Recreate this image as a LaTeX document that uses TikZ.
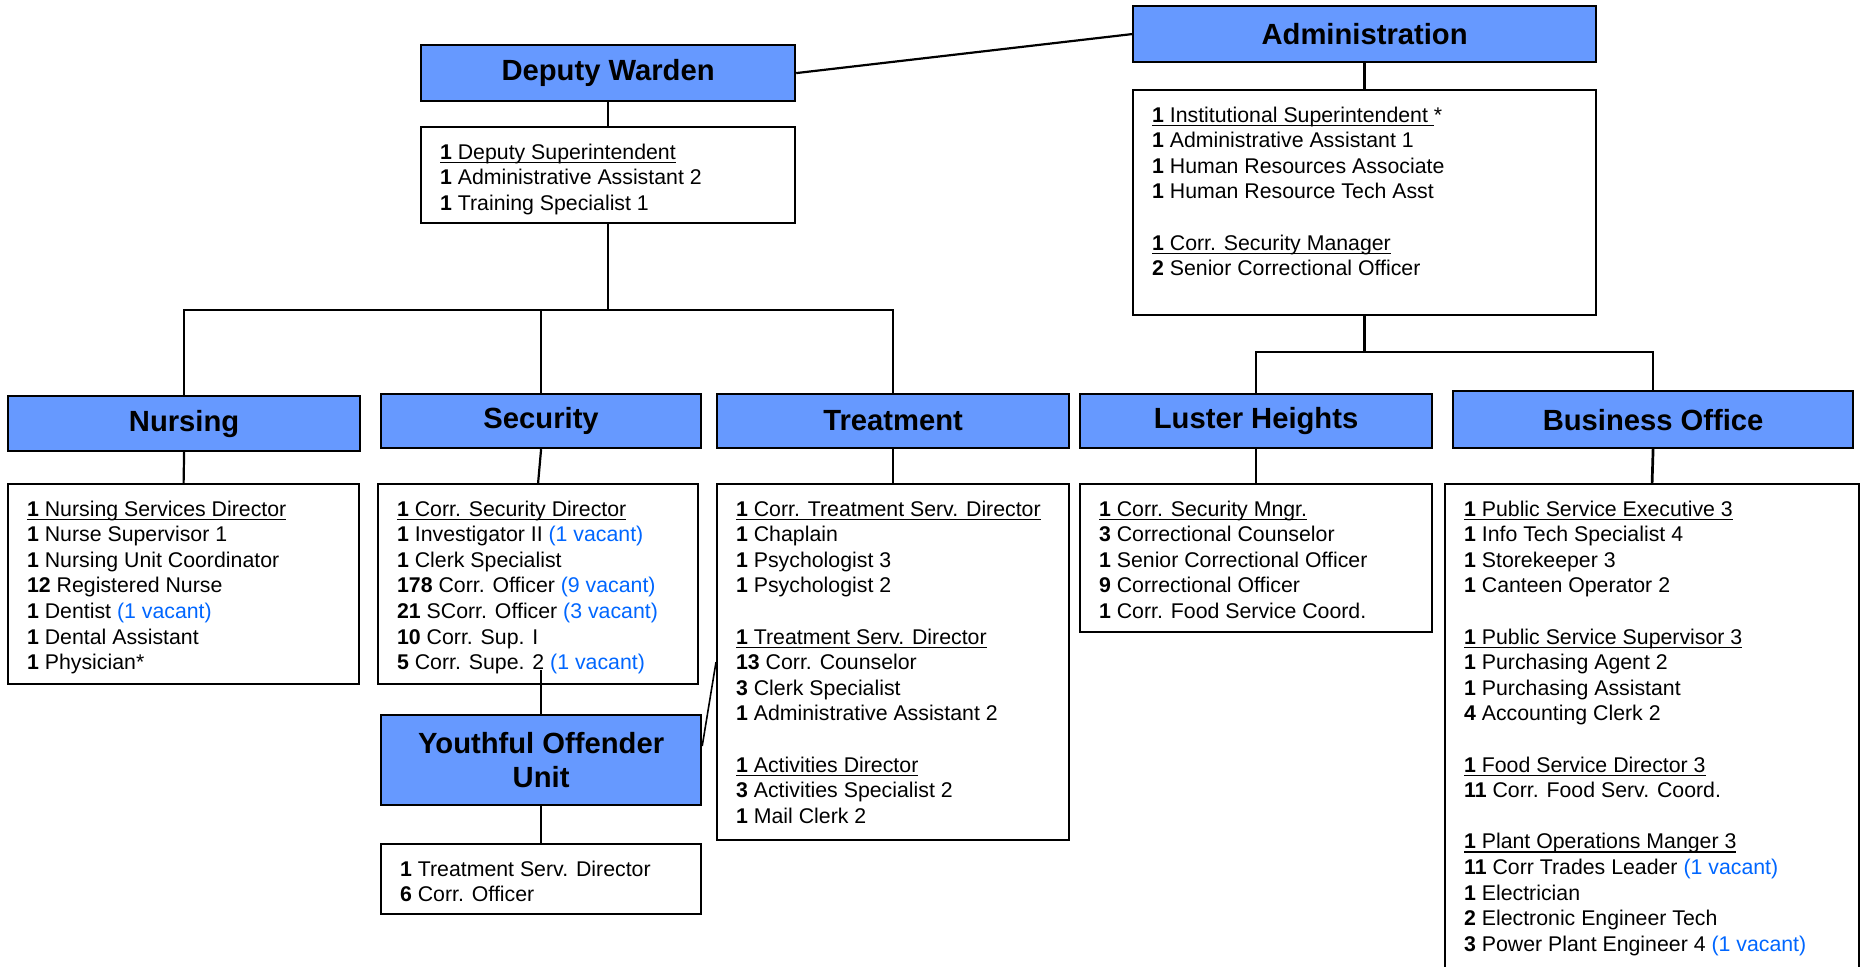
\documentclass[tikz,border=0pt]{standalone}
\usepackage{fontspec}
\setmainfont{Liberation Sans}
\usepackage{tikz}
\usetikzlibrary{calc}
\definecolor{unitblue}{RGB}{102,153,255}
\definecolor{vacant}{RGB}{0,102,255}
\newcommand{\roster}[3]{\parbox[c][#2][t]{#1}{\fontsize{10.65}{12.8}\selectfont\leftskip=9.5pt\rule{0pt}{16pt}#3}}
\newcommand{\uln}[1]{\setbox0\hbox{#1}\rlap{\rule[-1.9pt]{\wd0}{0.6pt}}\box0}
\newcommand{\staff}[2]{\textbf{#1} #2}
\newcommand{\chief}[2]{\uln{\textbf{#1} #2}}
\newcommand{\vac}[1]{\textcolor{vacant}{(#1 vacant)}}

\begin{document}
\begin{tikzpicture}[x=0.5pt, y=-0.5pt, line width=1.1pt,
  unit/.style={draw, fill=unitblue, anchor=north west, inner sep=0pt, align=center, font=\fontsize{14.6}{17.2}\selectfont\bfseries},
  staffbox/.style={draw, anchor=north west, inner sep=0pt},
  link/.style={line width=1.35pt}]
\useasboundingbox (0,0) rectangle (1860,967);
\node[name=admin, unit, minimum width=231.5pt, minimum height=28pt] at (1132,5) {Administration};
\node[name=admindet, staffbox] at (1132,89) {\roster{231.5pt}{112.5pt}{%
  \uln{\textbf{1} Institutional Superintendent\ }*\\
  \staff{1}{Administrative Assistant 1}\\
  \staff{1}{Human Resources Associate}\\
  \staff{1}{Human Resource Tech Asst}\\ \mbox{}\\
  \chief{1}{Corr. Security Manager}\\
  \staff{2}{Senior Correctional Officer}}};
\node[name=dw, unit, minimum width=187pt, minimum height=28pt] at (420,44) {Deputy Warden};
\node[name=dwdet, staffbox] at (420,126) {\roster{187pt}{48pt}{%
  \chief{1}{Deputy Superintendent}\\
  \staff{1}{Administrative Assistant 2}\\
  \staff{1}{Training Specialist 1}}};
\node[name=nursing, unit, minimum width=176pt, minimum height=27.5pt] at (7,395) {Nursing};
\node[name=nursdet, staffbox] at (7,483) {\roster{175.5pt}{100pt}{%
  \chief{1}{Nursing Services Director}\\
  \staff{1}{Nurse Supervisor 1}\\
  \staff{1}{Nursing Unit Coordinator}\\
  \staff{12}{Registered Nurse}\\
  \staff{1}{Dentist \vac{1}}\\
  \staff{1}{Dental Assistant}\\
  \staff{1}{Physician*}}};
\node[name=security, unit, minimum width=160pt, minimum height=27pt] at (380,393) {Security};
\node[name=secdet, staffbox] at (377,483) {\roster{160pt}{100pt}{%
  \chief{1}{Corr. Security Director}\\
  \staff{1}{Investigator II \vac{1}}\\
  \staff{1}{Clerk Specialist}\\
  \staff{178}{Corr. Officer \vac{9}}\\
  \staff{21}{SCorr. Officer \vac{3}}\\
  \staff{10}{Corr. Sup. I}\\
  \staff{5}{Corr. Supe. 2 \vac{1}}}};
\node[name=treatment, unit, minimum width=176pt, minimum height=27pt] at (716,393) {Treatment};
\node[name=treatdet, staffbox] at (716,483) {\roster{176pt}{178pt}{%
  \chief{1}{Corr. Treatment Serv. Director}\\
  \staff{1}{Chaplain}\\
  \staff{1}{Psychologist 3}\\
  \staff{1}{Psychologist 2}\\ \mbox{}\\
  \chief{1}{Treatment Serv. Director}\\
  \staff{13}{Corr. Counselor}\\
  \staff{3}{Clerk Specialist}\\
  \staff{1}{Administrative Assistant 2}\\ \mbox{}\\
  \chief{1}{Activities Director}\\
  \staff{3}{Activities Specialist 2}\\
  \staff{1}{Mail Clerk 2}}};
\node[name=luster, unit, minimum width=176pt, minimum height=27pt] at (1079,393) {Luster Heights};
\node[name=lustdet, staffbox] at (1079,483) {\roster{176pt}{74pt}{%
  \chief{1}{Corr. Security Mngr.}\\
  \staff{3}{Correctional Counselor}\\
  \staff{1}{Senior Correctional Officer}\\
  \staff{9}{Correctional Officer}\\
  \staff{1}{Corr. Food Service Coord.}}};
\node[name=business, unit, minimum width=200pt, minimum height=28.5pt] at (1452,390) {Business Office};
\node[name=busdet, staffbox] at (1444,483) {\roster{207pt}{250pt}{%
  \chief{1}{Public Service Executive 3}\\
  \staff{1}{Info Tech Specialist 4}\\
  \staff{1}{Storekeeper 3}\\
  \staff{1}{Canteen Operator 2}\\ \mbox{}\\
  \chief{1}{Public Service Supervisor 3}\\
  \staff{1}{Purchasing Agent 2}\\
  \staff{1}{Purchasing Assistant}\\
  \staff{4}{Accounting Clerk 2}\\ \mbox{}\\
  \chief{1}{Food Service Director 3}\\
  \staff{11}{Corr. Food Serv. Coord.}\\ \mbox{}\\
  \chief{1}{Plant Operations Manger 3}\\
  \staff{11}{Corr Trades Leader \vac{1}}\\
  \staff{1}{Electrician}\\
  \staff{2}{Electronic Engineer Tech}\\
  \staff{3}{Power Plant Engineer 4 \vac{1}}}};
\node[name=you, unit, minimum width=160pt, minimum height=45pt] at (380,714) {Youthful Offender\\Unit};
\node[name=youdet, staffbox] at (380,843) {\roster{160pt}{35pt}{%
  \staff{1}{Treatment Serv. Director}\\
  \staff{6}{Corr. Officer}}};
\coordinate (dwbus) at ($(dwdet.south)+(0,86)$);
\coordinate (adbus) at ($(admindet.south)+(0,36)$);
\coordinate (secdrop) at ($(you.north)+(0,-44)$);
\draw (dw.east) -- (admin.west);
\draw[link] (admin.south) -- (admindet.north);
\draw[link] (dw.south) -- (dwdet.north);
\draw[link] (dwdet.south) -- (dwbus);
\draw (nursing.north) |- (dwbus) -| (treatment.north);
\draw (security.north) -- (security.north |- dwbus);
\draw[link] (admindet.south) -- (adbus);
\draw (luster.north) |- (adbus) -| (business.north);
\draw (nursing.south) -- (nursdet.north);
\draw (security.south) -- (secdet.north);
\draw[link] (treatment.south) -- (treatdet.north);
\draw[link] (luster.south) -- (lustdet.north);
\draw[link] (business.south) -- (busdet.north);
\draw[link] (secdrop) -- (you.north);
\draw[line width=0.8pt] ($(you.east)+(0,-14)$) -- (treatdet.west);
\draw[link] (you.south) -- (youdet.north);
\end{tikzpicture}
\end{document}
